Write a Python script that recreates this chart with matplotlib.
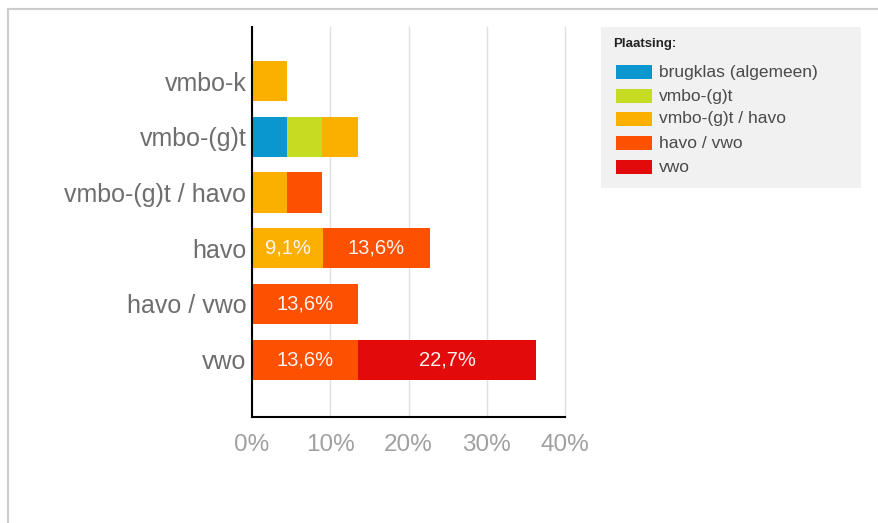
import matplotlib
matplotlib.use("Agg")
import matplotlib.pyplot as plt
from matplotlib.patches import Rectangle
from matplotlib.lines import Line2D
import numpy as np

plt.rcParams['font.family'] = ['Liberation Sans', 'DejaVu Sans']

# data (share of 22 pupils, in %)
categories = ['vmbo-k', 'vmbo-(g)t', 'vmbo-(g)t / havo', 'havo', 'havo / vwo', 'vwo']
series_names = ['brugklas (algemeen)', 'vmbo-(g)t', 'vmbo-(g)t / havo', 'havo / vwo', 'vwo']
brugklas = [0, 4.5, 0, 0, 0, 0]
vmbo_gt = [0, 4.5, 0, 0, 0, 0]
vmbo_gt_havo = [4.5, 4.5, 4.5, 9.1, 0, 0]
havo_vwo = [0, 0, 4.5, 13.6, 13.6, 13.6]
vwo = [0, 0, 0, 0, 0, 22.7]
colors = ['#0a97d0', '#c5dc22', '#fbb000', '#fd5000', '#e20a0a']
x_ticks = [0, 10, 20, 30, 40]

W, H = 879, 523
fig = plt.figure(figsize=(W / 100, H / 100), dpi=100)

def fx(px):
    return px / W

def fy(py):
    return 1 - py / H

# outer frame (only left/top visible)
fig.add_artist(Line2D([fx(8), fx(8)], [fy(9), 0], color='#cccccc', lw=1.5))
fig.add_artist(Line2D([fx(8), 1], [fy(9), fy(9)], color='#cccccc', lw=1.5))

ax = fig.add_axes([fx(252), fy(417), fx(565) - fx(252), fy(27) - fy(417)])

y = np.arange(len(categories))
left = np.zeros(len(categories))
all_series = [brugklas, vmbo_gt, vmbo_gt_havo, havo_vwo, vwo]
for vals, c in zip(all_series, colors):
    vals = np.array(vals)
    ax.barh(y, vals, left=left, height=0.72, color=c, zorder=3)
    for yi, (l, v) in enumerate(zip(left, vals)):
        if v >= 9:
            ax.text(l + v / 2, yi, ('%.1f%%' % v).replace('.', ','),
                    ha='center', va='center', color='#fff4f0', fontsize=14.5, zorder=4)
    left = left + vals

ax.set_ylim(6.03, -0.97)
ax.set_xlim(0, 40)
ax.set_yticks(y)
ax.set_yticklabels(categories)
ax.set_xticks(x_ticks)
ax.set_xticklabels(['%d%%' % t for t in x_ticks])
ax.tick_params(axis='y', length=0, pad=4, labelsize=18, labelcolor='#6e6e6e')
ax.tick_params(axis='x', length=0, pad=12, labelsize=17.5, labelcolor='#a0a0a0')
ax.grid(axis='x', color='#e0e0e0', lw=1, zorder=0)
for gl in ax.get_xgridlines():
    gl.set_clip_on(False)
for s in ['top', 'right']:
    ax.spines[s].set_visible(False)
ax.spines['left'].set_color('black')
ax.spines['bottom'].set_color('black')
ax.spines['left'].set_linewidth(1.5)
ax.spines['bottom'].set_linewidth(1.5)
ax.spines['left'].set_zorder(5)

# legend box
fig.add_artist(Rectangle((fx(601), fy(188)), fx(861) - fx(601), fy(27) - fy(188),
                         facecolor='#f1f1f1', edgecolor='none'))
fig.text(fx(613), fy(44), 'Plaatsing:', fontsize=9.5, fontweight='bold',
         color='#222222', va='center', ha='left')
entry_y = [72, 96, 119, 143, 167]
for name, c, ey in zip(series_names, colors, entry_y):
    fig.add_artist(Rectangle((fx(616), fy(ey + 7)), fx(36), 14 / H,
                             facecolor=c, edgecolor='none'))
    fig.text(fx(659), fy(ey), name, fontsize=12.5, color='#4a4a4a',
             va='center', ha='left')

fig.savefig('out.png', dpi=100)
